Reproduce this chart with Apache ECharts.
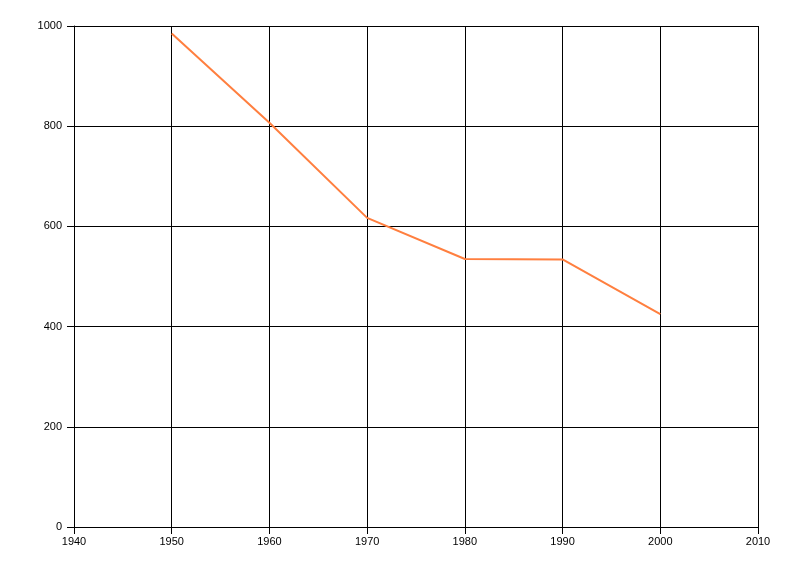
<!DOCTYPE html>
<html>
<head>
<meta charset="utf-8">
<script src="https://cdn.jsdelivr.net/npm/echarts@6/dist/echarts.min.js"></script>
<style>html,body{margin:0;padding:0;background:#fff}#c{width:800px;height:576px}</style>
</head>
<body>
<div id="c"></div>
<script>
var years = [1950, 1960, 1970, 1980, 1990, 2000];
var values = [985, 807, 617, 535, 534, 425];

var chart = echarts.init(document.getElementById('c'), null, {renderer: 'canvas'});
function plain(v) { return String(v); }
var axisCommon = {
  axisLine: {show: true, onZero: false, lineStyle: {color: '#000', width: 1}},
  axisTick: {show: true, length: 7, lineStyle: {color: '#000'}},
  splitLine: {show: true, lineStyle: {color: '#000', width: 1}},
  axisLabel: {color: '#000', fontFamily: 'Liberation Sans', fontSize: 11, formatter: plain}
};
chart.setOption({
  animation: false,
  backgroundColor: '#fff',
  grid: {left: 74, right: 42, top: 26, bottom: 49, containLabel: false},
  xAxis: Object.assign({type: 'value', min: 1940, max: 2010, interval: 10}, axisCommon,
    {axisLabel: Object.assign({}, axisCommon.axisLabel, {margin: 9})}),
  yAxis: Object.assign({type: 'value', min: 0, max: 1000, interval: 200}, axisCommon,
    {axisLabel: Object.assign({}, axisCommon.axisLabel, {margin: 12})}),
  series: [{
    type: 'line',
    data: years.map(function (y, i) { return [y, values[i]]; }),
    symbol: 'none',
    lineStyle: {color: '#ff7f3f', width: 2},
    itemStyle: {color: '#ff7f3f'}
  }]
});
</script>
</body>
</html>
